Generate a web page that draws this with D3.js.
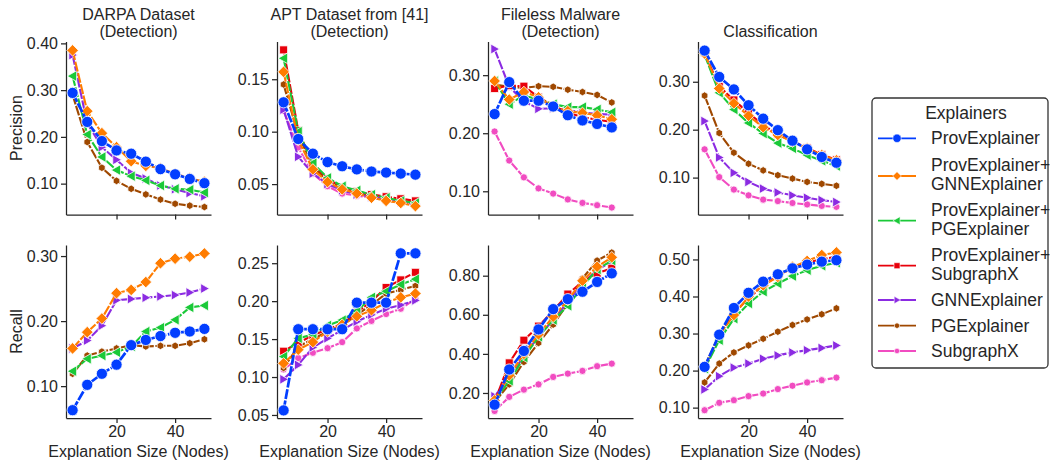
<!DOCTYPE html>
<html>
<head>
<meta charset="utf-8">
<script src="https://cdn.jsdelivr.net/npm/d3@7"></script>
<style>
  body { margin: 0; background: #fff; }
  svg text { font-family: "Liberation Sans", Arial, sans-serif; fill: #262626; }
</style>
</head>
<body>
<svg id="chart" width="1051" height="466"></svg>
<script>
// explanation sizes (x values)
const sizes = [5, 10, 15, 20, 25, 30, 35, 40, 45, 50]

const explainers = ["ProvExplainer", "ProvExplainer+\nGNNExplainer", "ProvExplainer+\nPGExplainer",
  "ProvExplainer+\nSubgraphX", "GNNExplainer", "PGExplainer", "SubgraphX"]
const colors = ["#023eff", "#ff7c00", "#1ac938", "#e8000b", "#8b2be2", "#9f4800", "#f14cc1"]
const markers = ["circle", "diamond", "triLeft", "square", "triRight", "hexagon", "circleSmall"]

const titles = [["DARPA Dataset", "(Detection)"], ["APT Dataset from [41]", "(Detection)"],
  ["Fileless Malware", "(Detection)"], ["Classification"]]
const rowLabels = ["Precision", "Recall"]
const xTicks = [20, 40]

// values, in legend order (null = not shown)
const darpaPrecision = [
  [0.294, 0.232, 0.191, 0.171, 0.164, 0.147, 0.131, 0.120, 0.110, 0.101],
  [0.385, 0.255, 0.208, 0.178, 0.148, 0.138, 0.133, 0.121, 0.112, 0.104],
  [0.330, 0.205, 0.157, 0.129, 0.116, 0.107, 0.096, 0.089, 0.087, 0.081],
  null,
  [0.375, 0.229, 0.178, 0.151, 0.123, 0.111, 0.096, 0.088, 0.080, 0.073],
  [0.290, 0.189, 0.134, 0.106, 0.089, 0.077, 0.066, 0.057, 0.053, 0.050],
  null
]
const aptPrecision = [
  [0.128, 0.093, 0.079, 0.071, 0.067, 0.064, 0.062, 0.061, 0.060, 0.059],
  [0.157, 0.092, 0.064, 0.052, 0.045, 0.041, 0.037, 0.034, 0.032, 0.029],
  [0.170, 0.100, 0.070, 0.056, 0.048, 0.044, 0.040, 0.037, 0.034, 0.032],
  [0.178, 0.101, 0.069, 0.055, 0.047, 0.043, 0.040, 0.038, 0.036, 0.034],
  [0.121, 0.076, 0.060, 0.050, 0.044, 0.040, 0.038, 0.036, 0.033, 0.031],
  [0.145, 0.097, 0.067, 0.053, 0.047, 0.042, 0.039, 0.036, 0.034, 0.032],
  [0.120, 0.085, 0.060, 0.048, 0.041, 0.039, 0.037, 0.035, 0.032, 0.031]
]
const filelessPrecision = [
  [0.233, 0.288, 0.256, 0.256, 0.246, 0.231, 0.222, 0.216, 0.210],
  [0.290, 0.258, 0.271, 0.262, 0.245, 0.238, 0.235, 0.231, 0.224],
  [0.290, 0.250, 0.265, 0.258, 0.250, 0.245, 0.245, 0.241, 0.236],
  [0.277, 0.282, 0.281, 0.262, 0.248, 0.235, 0.228, 0.223, 0.220],
  [0.345, 0.280, 0.255, 0.242, 0.243, 0.240, 0.236, 0.233, 0.232],
  [0.284, 0.280, 0.278, 0.281, 0.280, 0.275, 0.271, 0.266, 0.253],
  [0.203, 0.153, 0.124, 0.105, 0.096, 0.086, 0.080, 0.076, 0.072]
]
const classPrecision = [
  [0.365, 0.310, 0.284, 0.251, 0.223, 0.199, 0.177, 0.159, 0.143, 0.131],
  [0.359, 0.286, 0.255, 0.229, 0.205, 0.189, 0.175, 0.161, 0.147, 0.136],
  [0.356, 0.277, 0.242, 0.214, 0.192, 0.172, 0.161, 0.147, 0.135, 0.124],
  [0.360, 0.290, 0.262, 0.235, 0.210, 0.190, 0.176, 0.162, 0.148, 0.137],
  [0.218, 0.142, 0.110, 0.091, 0.077, 0.069, 0.063, 0.058, 0.053, 0.049],
  [0.271, 0.193, 0.152, 0.129, 0.115, 0.105, 0.098, 0.091, 0.087, 0.083],
  [0.159, 0.101, 0.075, 0.063, 0.054, 0.051, 0.047, 0.044, 0.041, 0.039]
]
const darpaRecall = [
  [0.063, 0.102, 0.119, 0.133, 0.163, 0.171, 0.177, 0.182, 0.184, 0.188],
  [0.158, 0.183, 0.204, 0.243, 0.248, 0.260, 0.289, 0.296, 0.299, 0.304],
  [0.123, 0.142, 0.147, 0.152, 0.161, 0.184, 0.190, 0.202, 0.221, 0.224],
  null,
  [0.158, 0.170, 0.193, 0.232, 0.234, 0.236, 0.238, 0.240, 0.244, 0.250],
  [0.119, 0.147, 0.153, 0.158, 0.163, 0.161, 0.162, 0.162, 0.166, 0.172],
  null
]
const aptRecall = [
  [0.056, 0.163, 0.163, 0.163, 0.163, 0.198, 0.198, 0.198, 0.263, 0.263],
  [0.118, 0.136, 0.146, 0.160, 0.169, 0.180, 0.188, 0.198, 0.205, 0.210],
  [0.127, 0.151, 0.156, 0.168, 0.175, 0.187, 0.205, 0.213, 0.222, 0.229],
  [0.134, 0.145, 0.155, 0.163, 0.170, 0.185, 0.200, 0.218, 0.228, 0.238],
  [0.097, 0.116, 0.139, 0.151, 0.162, 0.173, 0.182, 0.190, 0.195, 0.201],
  [0.112, 0.140, 0.150, 0.160, 0.168, 0.182, 0.195, 0.210, 0.215, 0.220],
  [0.110, 0.125, 0.132, 0.138, 0.146, 0.164, 0.174, 0.183, 0.190, 0.203]
]
const filelessRecall = [
  [0.140, 0.320, 0.415, 0.525, 0.629, 0.680, 0.718, 0.768, 0.812],
  [0.162, 0.290, 0.400, 0.500, 0.590, 0.675, 0.774, 0.846, 0.894],
  [0.162, 0.262, 0.381, 0.487, 0.573, 0.646, 0.744, 0.832, 0.877],
  [0.154, 0.354, 0.470, 0.542, 0.620, 0.706, 0.769, 0.812, 0.838],
  [0.183, 0.280, 0.388, 0.490, 0.573, 0.667, 0.761, 0.830, 0.872],
  [0.154, 0.244, 0.359, 0.456, 0.550, 0.658, 0.786, 0.877, 0.918],
  [0.108, 0.180, 0.217, 0.244, 0.282, 0.299, 0.313, 0.337, 0.350]
]
const classRecall = [
  [0.210, 0.297, 0.369, 0.410, 0.440, 0.460, 0.476, 0.486, 0.494, 0.498],
  [0.210, 0.296, 0.350, 0.400, 0.430, 0.453, 0.480, 0.496, 0.512, 0.519],
  [0.205, 0.282, 0.340, 0.381, 0.413, 0.435, 0.455, 0.471, 0.483, 0.491],
  [0.210, 0.296, 0.355, 0.395, 0.430, 0.455, 0.478, 0.492, 0.500, 0.508],
  [0.149, 0.185, 0.208, 0.219, 0.232, 0.241, 0.249, 0.255, 0.261, 0.268],
  [0.168, 0.219, 0.249, 0.268, 0.286, 0.305, 0.323, 0.338, 0.352, 0.368],
  [0.093, 0.113, 0.120, 0.131, 0.138, 0.150, 0.159, 0.168, 0.174, 0.181]
]

// y ranges and ticks per panel
const yDomains = [[0.034, 0.404], [0.021, 0.186], [0.060, 0.358], [0.023, 0.384],
  [0.051, 0.317], [0.046, 0.274], [0.072, 0.957], [0.072, 0.539]]
const yTicks = [[0.1, 0.2, 0.3, 0.4], [0.05, 0.10, 0.15], [0.1, 0.2, 0.3], [0.1, 0.2, 0.3],
  [0.1, 0.2, 0.3], [0.05, 0.10, 0.15, 0.20, 0.25], [0.2, 0.4, 0.6, 0.8], [0.1, 0.2, 0.3, 0.4, 0.5]]

const panels = [darpaPrecision, aptPrecision, filelessPrecision, classPrecision,
  darpaRecall, aptRecall, filelessRecall, classRecall]

// layout
const colX = [66, 277, 488, 698]
const plotW = 145
const rowY = [41.5, 245]
const plotH = 173

const svg = d3.select("#chart")

function markerPath(type, s) {
  if (type == "circle" || type == "circleSmall") {
    return d3.symbol(d3.symbolCircle, Math.PI * s * s)()
  }
  if (type == "square") return `M${-s},${-s}H${s}V${s}H${-s}Z`
  if (type == "diamond") return `M0,${-s}L${s},0L0,${s}L${-s},0Z`
  if (type == "triLeft") return `M${-s},0L${s * 0.75},${-s}L${s * 0.75},${s}Z`
  if (type == "triRight") return `M${s},0L${-s * 0.75},${-s}L${-s * 0.75},${s}Z`
  if (type == "hexagon") {
    const pts = d3.range(6).map(i => {
      const a = Math.PI / 6 + i * Math.PI / 3
      return [s * Math.cos(a), s * Math.sin(a)]
    })
    return "M" + pts.join("L") + "Z"
  }
}
const markerSize = [5.6, 5.8, 5.4, 4.0, 5.0, 3.8, 3.6]
const lineWidth = [2.7, 2.1, 2.1, 2.1, 2.1, 2.1, 2.1]

const x = d3.scaleLinear().domain([2.75, 52.25])

panels.forEach((data, p) => {
  const col = p % 4, row = Math.floor(p / 4)
  const g = svg.append("g").attr("transform", `translate(${colX[col]},${rowY[row]})`)
  x.range([0, plotW])
  const y = d3.scaleLinear().domain(yDomains[p]).range([plotH, 0])

  // axes
  const xa = g.append("g").attr("transform", `translate(0,${plotH})`)
    .call(d3.axisBottom(x).tickValues(xTicks).tickSize(5).tickSizeOuter(0).tickPadding(3)
      .tickFormat(row == 0 ? "" : d3.format("d")))
  const ya = g.append("g")
    .call(d3.axisLeft(y).tickValues(yTicks[p]).tickSize(5).tickSizeOuter(0).tickPadding(3)
      .tickFormat(d3.format(".2f")))
  ;[xa, ya].forEach(a => {
    a.select(".domain").attr("stroke", "#262626").attr("stroke-width", 1.25)
    a.selectAll(".tick line").attr("stroke", "#262626").attr("stroke-width", 1.25)
    a.selectAll(".tick text").attr("font-size", 16).style("fill", "#262626")
  })

  // lines, drawn in reverse so ProvExplainer ends on top
  d3.range(6, -1, -1).forEach(i => {
    const vals = data[i]
    if (!vals) return
    const pts = vals.map((v, j) => [sizes[j], v])
    g.append("path")
      .attr("d", d3.line().x(d => x(d[0])).y(d => y(d[1]))(pts))
      .attr("fill", "none")
      .attr("stroke", colors[i])
      .attr("stroke-width", lineWidth[i])
      .attr("stroke-dasharray", "10,1.6")
    g.selectAll(null).data(pts).enter().append("path")
      .attr("transform", d => `translate(${x(d[0])},${y(d[1])})`)
      .attr("d", markerPath(markers[i], markerSize[i]))
      .attr("fill", colors[i])
      .attr("stroke", "#fff")
      .attr("stroke-width", 0.8)
  })

  // titles
  if (row == 0) {
    const t = titles[col]
    t.forEach((s, k) => {
      g.append("text")
        .attr("x", plotW / 2)
        .attr("y", t.length == 2 ? -22 + k * 17.5 : -5)
        .attr("text-anchor", "middle")
        .attr("font-size", 16)
        .text(s)
    })
  } else {
    g.append("text")
      .attr("x", plotW / 2).attr("y", plotH + 39)
      .attr("text-anchor", "middle").attr("font-size", 16)
      .text("Explanation Size (Nodes)")
  }
  if (col == 0) {
    g.append("text")
      .attr("transform", `translate(${-44},${plotH / 2}) rotate(-90)`)
      .attr("text-anchor", "middle").attr("font-size", 16)
      .text(rowLabels[row])
  }
})

// legend
const leg = svg.append("g")
leg.append("rect")
  .attr("x", 872).attr("y", 98).attr("width", 176).attr("height", 270)
  .attr("rx", 4).attr("fill", "#fff").attr("stroke", "#333").attr("stroke-width", 1.3)
leg.append("text").attr("x", 966).attr("y", 119).attr("text-anchor", "middle")
  .attr("font-size", 17.5).text("Explainers")
const legY = [138.3, 176, 220.7, 265.7, 300, 325.7, 351]
explainers.forEach((name, i) => {
  const cy = legY[i]
  leg.append("line").attr("x1", 878).attr("x2", 916).attr("y1", cy).attr("y2", cy)
    .attr("stroke", colors[i]).attr("stroke-width", 1.8)
  leg.append("path").attr("transform", `translate(897,${cy})`)
    .attr("d", markerPath(markers[i], markerSize[i] * 0.75))
    .attr("fill", colors[i]).attr("stroke", "#fff").attr("stroke-width", 0.6)
  const lines = name.split("\n")
  lines.forEach((s, k) => {
    leg.append("text")
      .attr("x", 931)
      .attr("y", lines.length == 2 ? cy - 11 + k * 19 + 6 : cy + 6)
      .attr("font-size", 17.5)
      .text(s)
  })
})
</script>
</body>
</html>
